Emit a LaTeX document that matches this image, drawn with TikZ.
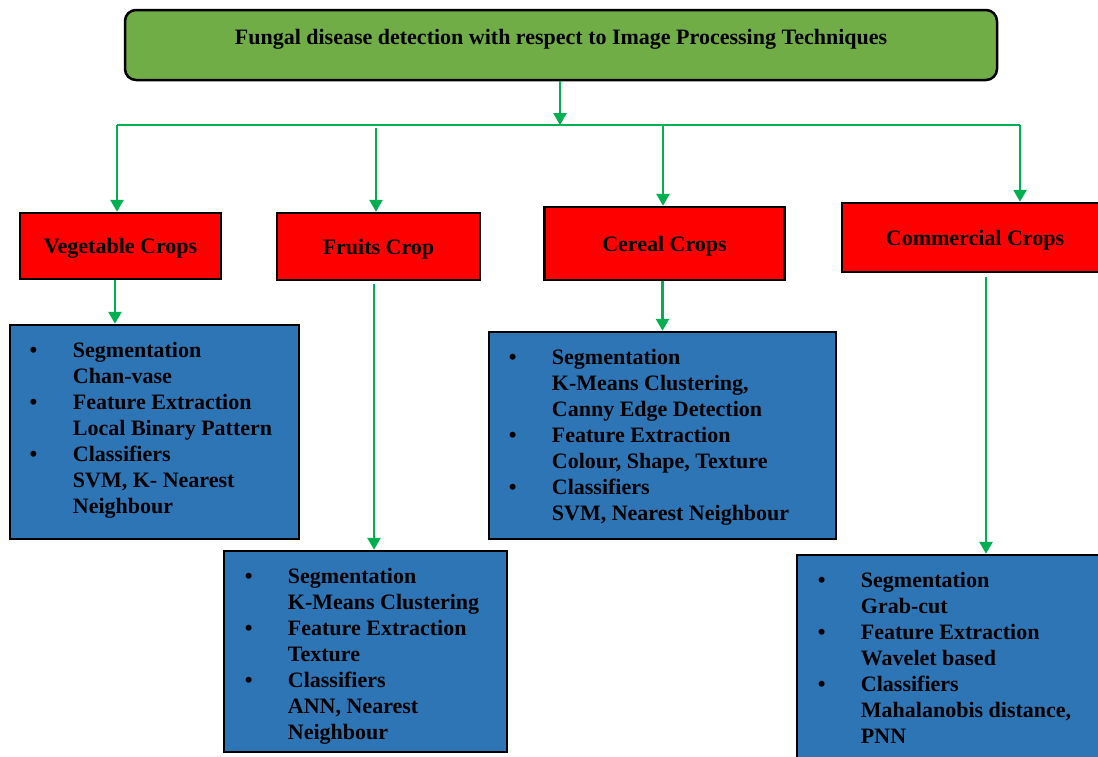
\documentclass[tikz,border=0pt]{standalone}
\usepackage{fontspec}
\setmainfont{Liberation Serif}
\usetikzlibrary{arrows.meta,calc}
\definecolor{topgreen}{HTML}{70AD47}
\definecolor{cropred}{HTML}{FF0000}
\definecolor{infoblue}{HTML}{2E75B6}
\definecolor{arrgreen}{HTML}{00B050}
\newcommand{\bulitem}{\llap{\textbullet\hspace{35.5pt}}}
\begin{document}
\begin{tikzpicture}[x=1pt,y=-1pt,
  txt/.style={font=\fontsize{22}{26}\selectfont\bfseries, inner sep=0pt},
  titlebox/.style={draw=black, line width=2.5pt, fill=topgreen, rounded corners=11pt},
  cropbox/.style={draw=black, line width=2.5pt, fill=cropred, txt, text height=15pt, text depth=0pt},
  infobox/.style={draw=black, line width=2.5pt, fill=infoblue, inner sep=0pt},
  infotext/.style={txt, anchor=base west},
  conn/.style={draw=arrgreen, line width=2.7pt},
  arr/.style={conn, -{Triangle[width=13pt,length=12pt]}}]
\useasboundingbox (0,0) rectangle (1098,756);
\clip (0,0) rectangle (1098,756);

% title
\node[titlebox, minimum width=872pt, minimum height=70pt] (title) at (561,45) {};
\node[txt, anchor=base] (titletext) at (561,44) {Fungal disease detection with respect to Image Processing Techniques};

% crop boxes
\node[cropbox, minimum width=201pt, minimum height=66pt] (veg) at (120.5,246) {Vegetable Crops};
\node[cropbox, minimum width=203pt, minimum height=67pt] (fruit) at (378.5,246.5) {Fruits Crop};
\node[cropbox, minimum width=240pt, minimum height=73pt] (cereal) at (664.5,243.5) {Cereal Crops};
\node[cropbox, minimum width=266pt, minimum height=69pt] (comm) at (975,237.5) {Commercial Crops};

% info boxes
\node[infobox, minimum width=289pt, minimum height=214pt] (vegb) at (154.5,432) {};
\node[infobox, minimum width=283pt, minimum height=201pt] (fruitb) at (365.5,651.5) {};
\node[infobox, minimum width=347pt, minimum height=207pt] (cerealb) at (662.5,435.5) {};
\node[infobox, minimum width=313pt, minimum height=215pt] (commb) at (953.5,662.5) {};

\node[infotext] (vegt) at ($(vegb.north west)+(64,34)$) {\begin{tabular}[t]{@{}l@{}}
\bulitem Segmentation\\ Chan-vase\\ \bulitem Feature Extraction\\ Local Binary Pattern\\ \bulitem Classifiers\\ SVM, K- Nearest\\ Neighbour
\end{tabular}};
\node[infotext] (fruitt) at ($(fruitb.north west)+(65,34)$) {\begin{tabular}[t]{@{}l@{}}
\bulitem Segmentation\\ K-Means Clustering\\ \bulitem Feature Extraction\\ Texture\\ \bulitem Classifiers\\ ANN, Nearest\\ Neighbour
\end{tabular}};
\node[infotext] (cerealt) at ($(cerealb.north west)+(64,34)$) {\begin{tabular}[t]{@{}l@{}}
\bulitem Segmentation\\ K-Means Clustering,\\ Canny Edge Detection\\ \bulitem Feature Extraction\\ Colour, Shape, Texture\\ \bulitem Classifiers\\ SVM, Nearest Neighbour
\end{tabular}};
\node[infotext] (commt) at ($(commb.north west)+(65,34)$) {\begin{tabular}[t]{@{}l@{}}
\bulitem Segmentation\\ Grab-cut\\ \bulitem Feature Extraction\\ Wavelet based\\ \bulitem Classifiers\\ Mahalanobis distance,\\ PNN
\end{tabular}};

% bus connectors
\coordinate (bus) at (560,125);
\coordinate (busL) at (117,125);
\coordinate (busR) at (1020,125);
\coordinate (fdrop) at (376,128);
\coordinate (cdrop) at (663,125);
\draw[arr] (title.south -| bus) -- (bus);
\draw[conn] (busL) -- (busR);
\draw[arr] (busL) -- (busL |- veg.north);
\draw[arr] (fdrop) -- (fdrop |- fruit.north);
\draw[arr] (cdrop) -- (cdrop |- cereal.north);
\draw[arr] (busR) -- (busR |- comm.north);

% crop to info connectors
\coordinate (va) at (115,0);
\coordinate (fa) at (374,0);
\coordinate (ca) at (662.5,0);
\coordinate (ma) at (986,0);
\draw[arr] (va |- veg.south) -- (va |- vegb.north);
\draw[arr] ($(fa |- fruit.south)+(0,3)$) -- (fa |- fruitb.north);
\draw[arr] (ca |- cereal.south) -- (ca |- cerealb.north);
\draw[arr] ($(ma |- comm.south)+(0,4)$) -- (ma |- commb.north);
\end{tikzpicture}
\end{document}
